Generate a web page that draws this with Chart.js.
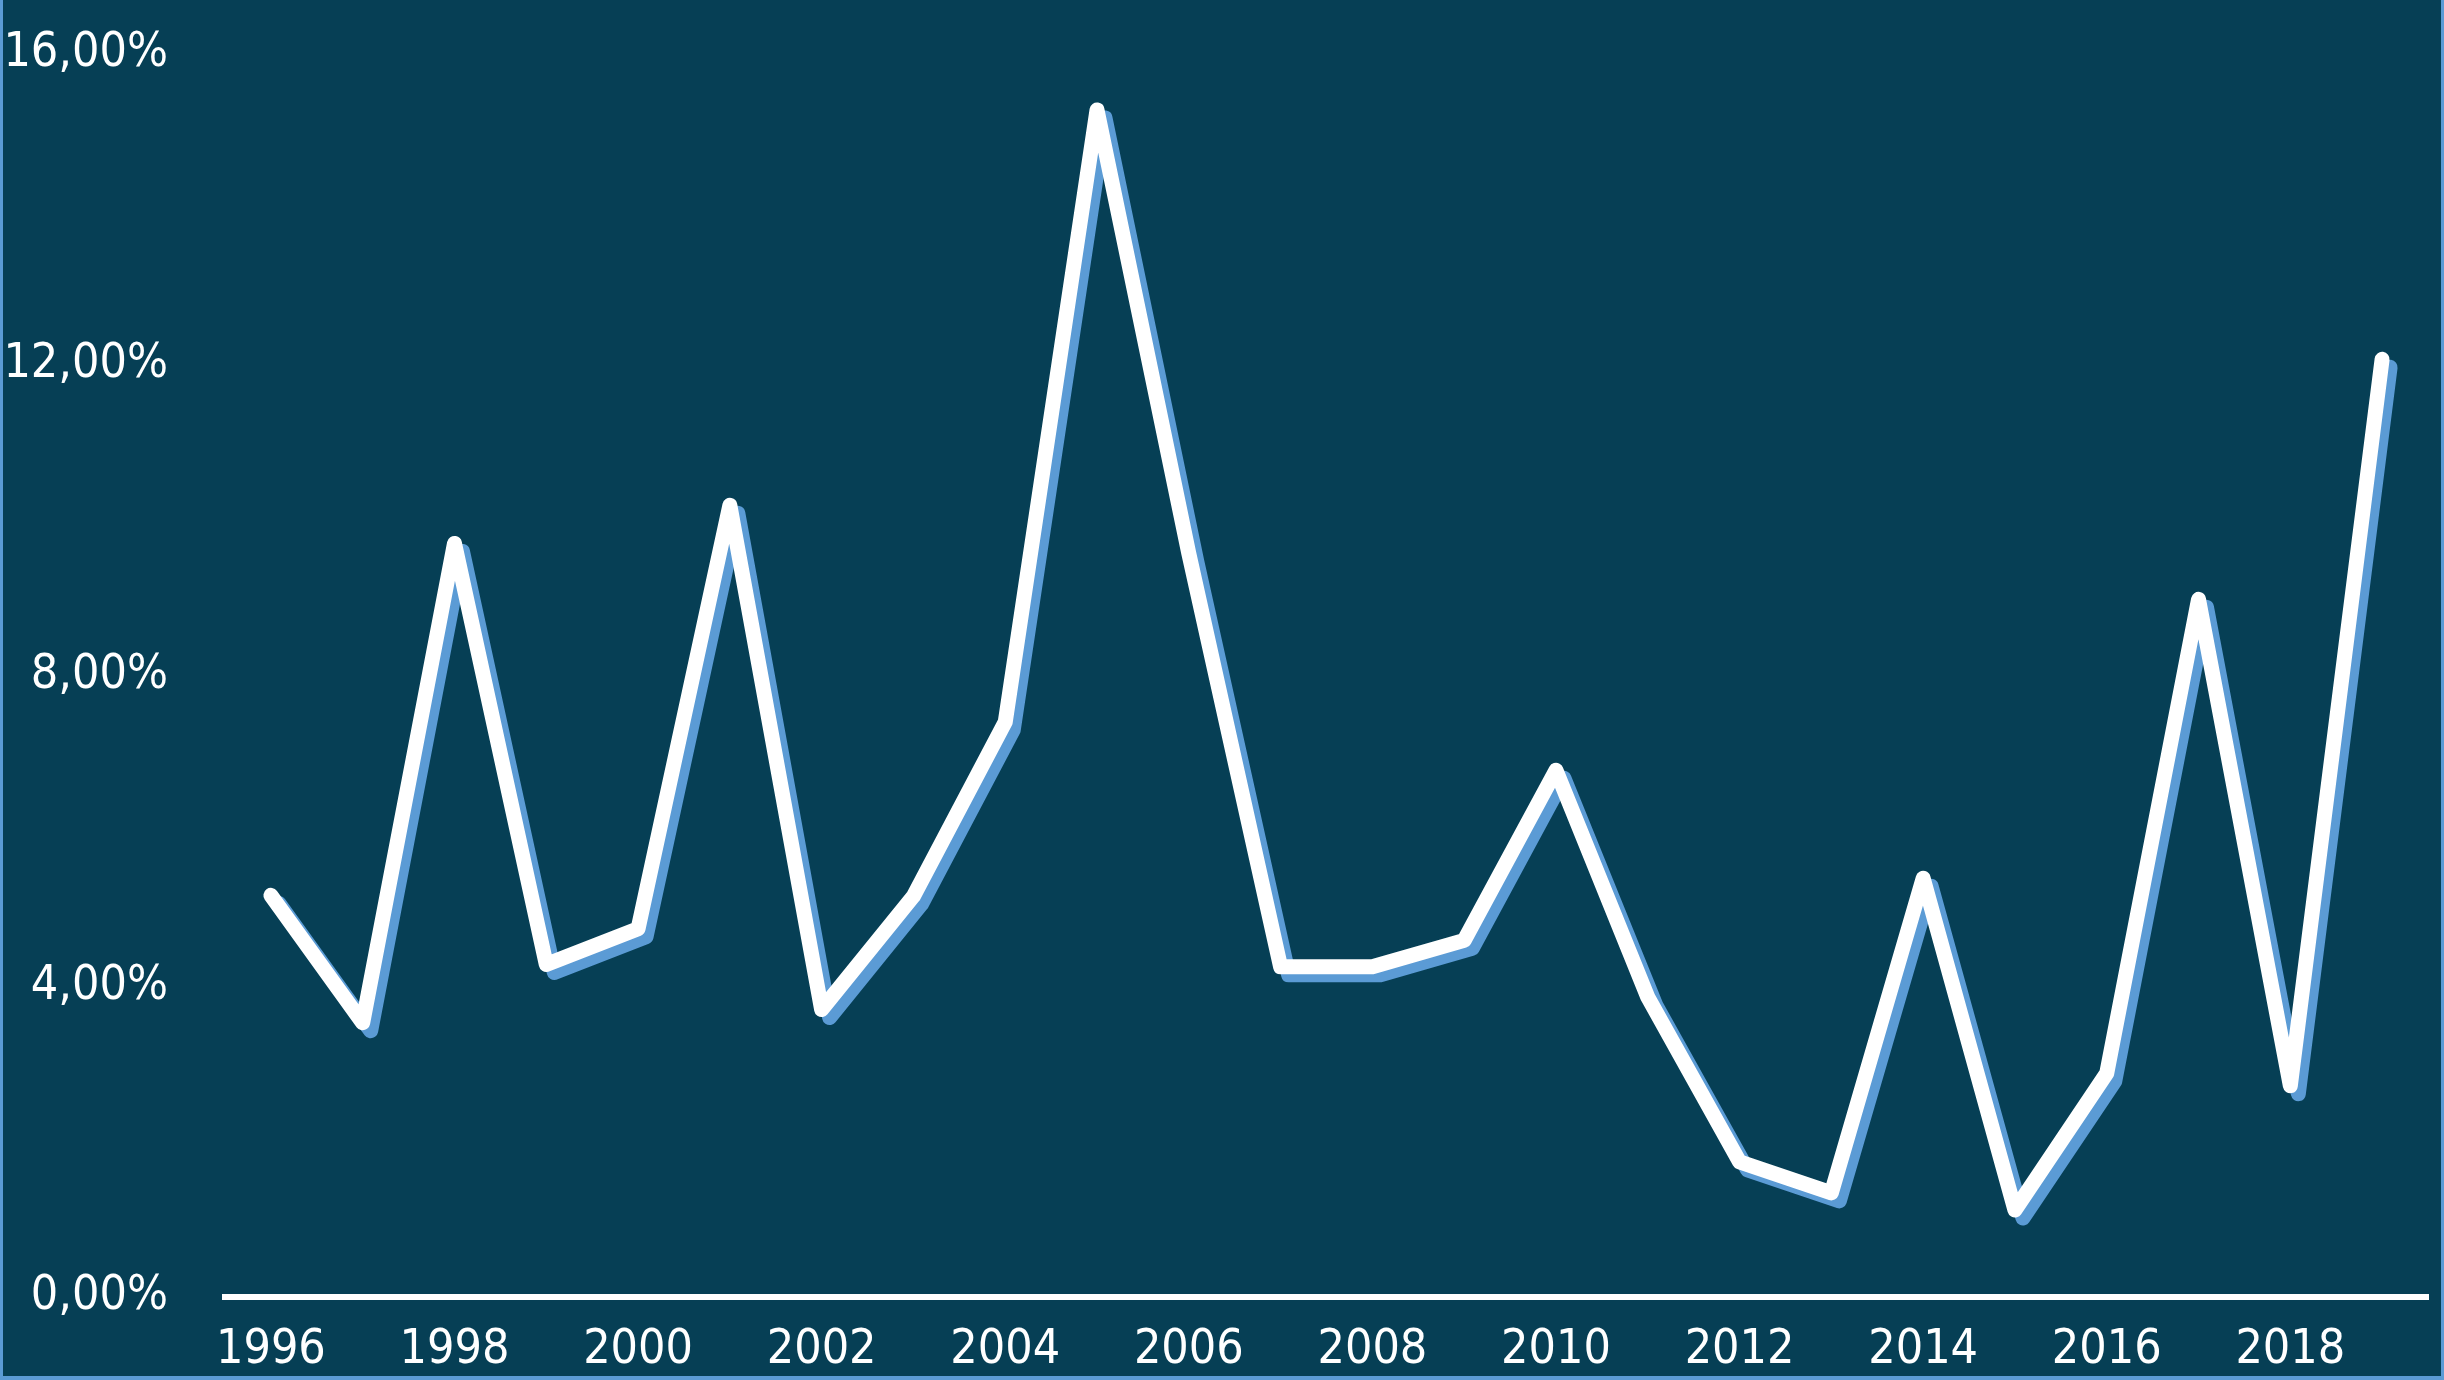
<!DOCTYPE html>
<html>
<head>
<meta charset="utf-8">
<script src="https://cdn.jsdelivr.net/npm/chart.js@4.4.0/dist/chart.umd.min.js"></script>
<style>
    html, body { margin: 0; padding: 0; background: #063f55; }
    .frame {
        position: absolute; left: 0; top: 0;
        width: 2444px; height: 1380px;
        box-sizing: border-box;
        background: #063f55;
        border-left: 3px solid #5b9bd5;
        border-right: 3px solid #5b9bd5;
        border-bottom: 4px solid #5b9bd5;
    }
    canvas { display: block; }
</style>
</head>
<body>
<div class="frame">
    <canvas id="lineChart" width="2438" height="1376" style="width:2438px;height:1376px"></canvas>
</div>
<script>
    // Données
    const years = ['1996', '1997', '1998', '1999', '2000', '2001', '2002', '2003', '2004', '2005', '2006', '2007',
                   '2008', '2009', '2010', '2011', '2012', '2013', '2014', '2015', '2016', '2017', '2018', '2019'];
    const rates = [5.17, 3.53, 9.70, 4.28, 4.74, 10.19, 3.70, 5.16, 7.40, 15.28, 9.57, 4.25,
                   4.25, 4.59, 6.78, 3.86, 1.74, 1.34, 5.39, 1.12, 2.88, 8.98, 2.72, 12.07];
    const yTicks = [0, 4, 8, 12, 16];

    const labelFont = { family: "'DejaVu Sans Condensed', 'Liberation Sans Narrow', sans-serif", size: 48 };

    // Ombre décalée de la courbe
    const shadowPlugin = {
        id: 'lineShadow',
        beforeDatasetDraw(chart) {
            const ctx = chart.ctx;
            ctx.save();
            ctx.shadowColor = '#5b9bd5';
            ctx.shadowBlur = 0;
            ctx.shadowOffsetX = 8;
            ctx.shadowOffsetY = 8;
        },
        afterDatasetDraw(chart) {
            chart.ctx.restore();
        }
    };

    const ctx = document.getElementById('lineChart').getContext('2d');
    const chart = new Chart(ctx, {
        type: 'line',
        data: {
            labels: years,
            datasets: [{
                data: rates,
                borderColor: '#ffffff',
                borderWidth: 15,
                borderCapStyle: 'round',
                borderJoinStyle: 'round',
                pointRadius: 0,
                tension: 0,
                fill: false
            }]
        },
        options: {
            responsive: false,
            animation: false,
            layout: { padding: { left: 0, right: 13, top: 54, bottom: 0 } },
            plugins: {
                legend: { display: false },
                tooltip: { enabled: false }
            },
            scales: {
                x: {
                    offset: true,
                    grid: { display: false, drawTicks: false },
                    border: { display: true, color: '#ffffff', width: 6 },
                    ticks: {
                        color: '#ffffff',
                        font: labelFont,
                        padding: 25,
                        maxRotation: 0,
                        autoSkip: false,
                        callback: function(value, index) {
                            return index % 2 === 0 ? years[index] : '';
                        }
                    },
                    afterFit(scale) {
                        scale.height = 79;
                        scale.paddingLeft = 0;
                        scale.paddingRight = 0;
                    }
                },
                y: {
                    min: 0,
                    max: 16,
                    afterBuildTicks(scale) {
                        scale.ticks = yTicks.map(v => ({ value: v }));
                    },
                    grid: { display: false, drawTicks: false },
                    border: { display: false },
                    ticks: {
                        color: '#ffffff',
                        font: labelFont,
                        padding: 57,
                        callback: function(value) {
                            return value.toFixed(2).replace('.', ',') + '%';
                        }
                    },
                    afterFit(scale) {
                        scale.width = 222;
                        scale.paddingTop = 0;
                        scale.paddingBottom = 0;
                    }
                }
            }
        },
        plugins: [shadowPlugin]
    });
</script>
</body>
</html>
